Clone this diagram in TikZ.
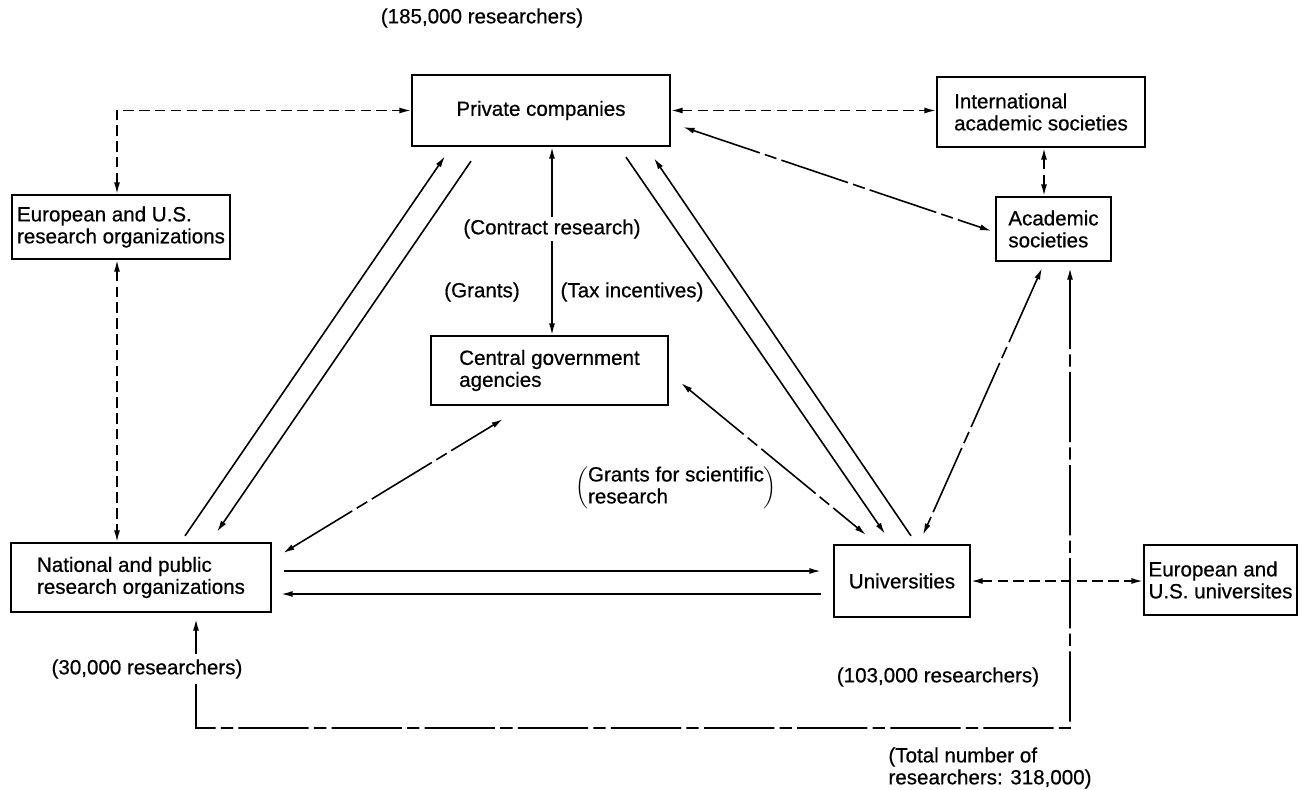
\documentclass[tikz,border=0pt]{standalone}
\usepackage{fontspec}
\setmainfont{Liberation Sans}[FakeBold=0.6]
\usetikzlibrary{calc, arrows.meta}
\tikzset{
  box/.style={draw, line width=1.3pt, rectangle, inner sep=2pt, align=left, font=\fontsize{11.7}{12.5}\selectfont},
  lbl/.style={inner sep=1pt, align=left, font=\fontsize{11.7}{12.5}\selectfont},
  conn/.style={line width=0.9pt, >={Latex[length=6.5pt,width=3.4pt]}},
  shortdash/.style={conn, dash pattern=on 6pt off 3pt},
  chaindash/.style={conn, dash pattern=on 40pt off 3pt on 7pt off 3pt},
}
\begin{document}
\begin{tikzpicture}[x=0.02cm, y=-0.02cm]

    \useasboundingbox (0,0) rectangle (1302,789);

    % boxes
    \node[box, minimum width=5.16cm, minimum height=1.42cm] (priv) at (541,110.5) {Private companies};
    \node[box, minimum width=4.16cm, minimum height=1.40cm] (intl) at (1041,112) {International\\academic societies};
    \node[box, minimum width=2.30cm, minimum height=1.28cm] (acad) at (1053.5,229) {Academic\\societies};
    \node[box, minimum width=4.36cm, minimum height=1.28cm] (euorg) at (121,227) {European and U.S.\\research organizations};
    \node[box, minimum width=4.74cm, minimum height=1.38cm] (cent) at (549.5,370.5) {Central government\\agencies};
    \node[box, minimum width=5.20cm, minimum height=1.38cm] (natl) at (141,577.5) {National and public\\research organizations};
    \node[box, minimum width=2.72cm, minimum height=1.44cm] (univ) at (902,581) {Universities};
    \node[box, minimum width=3.06cm, minimum height=1.40cm] (euuni) at (1220.5,580) {European and\\U.S. universites};

    % labels
    \node[lbl] (top) at (482,18) {(185,000 researchers)};
    \node[lbl] (contract) at (552,229) {(Contract research)};
    \node[lbl] (grants) at (482,292) {(Grants)};
    \node[lbl] (tax) at (632,292) {(Tax incentives)};
    \node[lbl] (gsr) at (676,488) {$\left(\vcenter{\hbox{\begin{tabular}{@{}l@{}}Grants for scientific\\research\end{tabular}}}\right)$};
    \node[lbl] (univnum) at (938,677) {(103,000 researchers)};
    \node[lbl] (total) at (990,768) {(Total number of\\researchers: 318,000)};

    % dashed links abroad
    \draw[shortdash,<->] ($(euorg.north)+(-4,0)$) |- (priv.west);
    \draw[shortdash,<->] ($(euorg.south)+(-4,0)$) -- ($(euorg.south |- natl.north)+(-4,0)$);
    \draw[shortdash,<->] (priv.east) -- (priv.east -| intl.west);
    \draw[shortdash,<->] ($(intl.south)+(3,0)$) -- ($(intl.south |- acad.north)+(3,0)$);
    \draw[shortdash,<->] (univ.east) -- (univ.east -| euuni.west);

    % contract research
    \draw[conn,->] (contract.north) -- (contract.north |- priv.south);
    \draw[conn,->] (contract.south) -- (contract.south |- cent.north);

    % national <-> private
    \draw[conn,->] ($(natl.north)+(44,-6)$) -- ($(priv.south)+(-96,9)$);
    \draw[conn,->] ($(priv.south)+(-70,14)$) -- ($(natl.north)+(76,-10)$);

    % private <-> universities
    \draw[conn,->] ($(priv.south)+(85,10)$) -- ($(univ.north)+(-17,-10)$);
    \draw[conn,->] ($(univ.north)+(9,-8)$) -- ($(priv.south)+(113,11)$);

    % national <-> universities
    \draw[conn,->] ($(natl.east)+(12,-6.5)$) -- ($(univ.west)+(-12,-10)$);
    \draw[conn,->] ($(univ.west)+(-12,13)$) -- ($(natl.east)+(9,16.5)$);

    % long dashed links
    \draw[chaindash,<->] ($(priv.east)+(12,16.5)$) -- ($(acad.west)+(-3.5,2)$);
    \draw[chaindash,<->] ($(natl.east)+(11,-24.5)$) -- ($(cent.south)+(-46.5,13)$);
    \draw[chaindash,<->] ($(cent.east)+(12,12.5)$) -- ($(univ.north)+(-36,-9)$);
    \draw[chaindash,<->] ($(acad.south)+(-11.5,6)$) -- ($(univ.north)+(21,-9)$);

    % total loop
    \coordinate (loopcorner) at (1070,728);
    \draw[chaindash,<->] ($(acad.south)+(16.5,6)$) -- (loopcorner) -| ($(natl.south)+(55,6)$);

    % label over the loop
    \node[lbl, fill=white, inner sep=3pt] (natlnum) at (147,669) {(30,000 researchers)};

\end{tikzpicture}
\end{document}
